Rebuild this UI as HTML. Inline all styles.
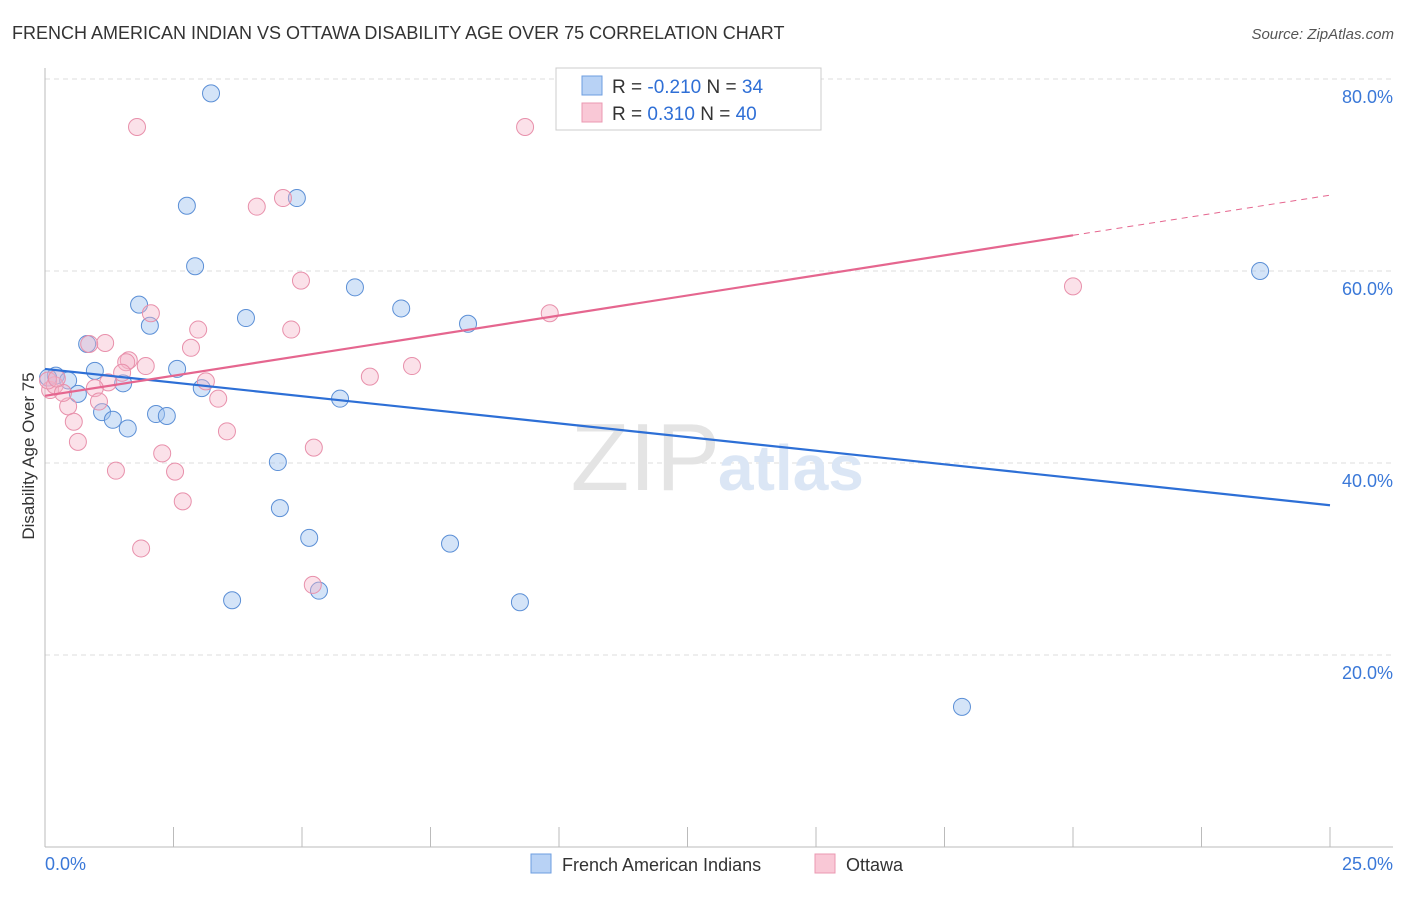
<!DOCTYPE html>
<html><head><meta charset="utf-8"><style>
body{margin:0;background:#fff;font-family:"Liberation Sans",sans-serif}
svg text{font-family:"Liberation Sans",sans-serif}
</style></head><body>
<svg width="1406" height="892">
<text x="12" y="39" font-size="18" fill="#333">FRENCH AMERICAN INDIAN VS OTTAWA DISABILITY AGE OVER 75 CORRELATION CHART</text>
<text x="1394" y="39" font-size="15" fill="#555" text-anchor="end" font-style="italic">Source: ZipAtlas.com</text>
<g id="grid"></g>
<text x="720" y="490" font-size="96" fill="#e4e4e4" text-anchor="end" font-family="Liberation Serif">ZIP</text>
<text x="718" y="490" font-size="64" fill="#dbe6f5" font-weight="bold">atlas</text>
<g id="pts"></g>
<g id="lines"></g>
<text transform="translate(34,456) rotate(-90)" font-size="17" fill="#333" text-anchor="middle">Disability Age Over 75</text>
<rect x="556" y="68" width="265" height="62" fill="#fff" stroke="#ccc"/>
<rect x="582" y="76" width="20" height="19" fill="#b8d2f5" stroke="#6d9ee0"/>
<rect x="582" y="103" width="20" height="19" fill="#f9c8d6" stroke="#eb98b2"/>
<text x="612" y="93" font-size="19" fill="#333">R = <tspan fill="#2f6fd6">-0.210</tspan>   N = <tspan fill="#2f6fd6">34</tspan></text>
<text x="612" y="120" font-size="19" fill="#333">R =  <tspan fill="#2f6fd6">0.310</tspan>   N = <tspan fill="#2f6fd6">40</tspan></text>
<text x="45" y="870" font-size="18" fill="#3a78d8">0.0%</text>
<text x="1393" y="870" font-size="18" fill="#3a78d8" text-anchor="end">25.0%</text>
<rect x="531" y="854" width="20" height="19" fill="#b8d2f5" stroke="#6d9ee0"/>
<text x="562" y="871" font-size="18" fill="#333">French American Indians</text>
<rect x="815" y="854" width="20" height="19" fill="#f9c8d6" stroke="#eb98b2"/>
<text x="846" y="871" font-size="18" fill="#333">Ottawa</text>
</svg>
<script>
const blueX=[3.23,2.76,4.90,2.92,1.83,2.04,6.03,6.93,8.23,3.91,0.82,0.97,2.57,1.52,3.05,5.74,0.21,0.06,0.45,0.64,1.11,1.32,1.61,2.16,2.37,4.53,4.57,5.14,7.88,3.64,5.33,9.24,23.64,17.84];
const blueY=[78.5,66.8,67.6,60.5,56.5,54.3,58.3,56.1,54.5,55.1,52.4,49.6,49.8,48.3,47.8,46.7,49.1,48.9,48.6,47.2,45.3,44.5,43.6,45.1,44.9,40.1,35.3,32.2,31.6,25.7,26.7,25.5,60.0,14.6];
const pinkX=[1.79,9.34,4.12,4.63,4.98,2.06,2.98,4.79,9.82,1.17,0.86,2.84,1.63,1.58,1.96,1.50,1.23,0.97,3.13,6.32,7.14,3.37,1.05,0.45,0.56,0.64,3.54,5.23,2.28,1.38,2.53,2.68,1.87,5.21,20.0,0.10,0.19,0.35,0.06,0.23];
const pinkY=[75.0,75.0,66.7,67.6,59.0,55.6,53.9,53.9,55.6,52.5,52.4,52.0,50.7,50.5,50.1,49.4,48.4,47.8,48.5,49.0,50.1,46.7,46.4,45.9,44.3,42.2,43.3,41.6,41.0,39.2,39.1,36.0,31.1,27.3,58.4,47.6,48.1,47.3,48.6,48.8];
const blueTrend=[49.8,35.6];
const pinkTrend=[47.0,67.9];
const pinkTrendSolidEnd=20.0;
const yTicks=[20,40,60,80];
const yTickLabels=["20.0%","40.0%","60.0%","80.0%"];
const xTicks=[0,2.5,5,7.5,10,12.5,15,17.5,20,22.5,25];
const NS="http://www.w3.org/2000/svg";
const sx=v=>45+v/25*1285, sy=v=>847-v*9.6;
function mk(t,a,p){const e=document.createElementNS(NS,t);for(const k in a)e.setAttribute(k,a[k]);p.appendChild(e);return e;}
const grid=document.getElementById('grid');
yTicks.forEach((t,i)=>{
 const l=mk('line',{x1:45,x2:1393,y1:sy(t),y2:sy(t),stroke:'#ddd','stroke-dasharray':'5,4'},grid);
 
 
 const tx=mk('text',{x:1393,y:sy(t)+24,'font-size':18,fill:'#3a78d8','text-anchor':'end'},grid);
 tx.textContent=yTickLabels[i];
 
 
});
const ax=mk('line',{x1:45,x2:1393,y1:847,y2:847,stroke:'#bbb'},grid);


const ay=mk('line',{x1:45,x2:45,y1:68,y2:847,stroke:'#bbb'},grid);


xTicks.forEach(t=>{
 const l=mk('line',{x1:sx(t),x2:sx(t),y1:827,y2:847,stroke:'#bbb'},grid);
 
 
});
const pts=document.getElementById('pts');
blueX.forEach((x,i)=>{
 const c=mk('circle',{cx:sx(x),cy:sy(blueY[i]),r:8.5,fill:'rgba(160,196,240,0.45)',stroke:'#5b8fd6','stroke-width':1},pts);
 
 
});
pinkX.forEach((x,i)=>{
 const c=mk('circle',{cx:sx(x),cy:sy(pinkY[i]),r:8.5,fill:'rgba(245,180,200,0.4)',stroke:'#e890ab','stroke-width':1},pts);
 
 
});
const lines=document.getElementById('lines');
const bl=mk('line',{x1:sx(0),y1:sy(blueTrend[0]),x2:sx(25),y2:sy(blueTrend[1]),stroke:'#2d6fd6','stroke-width':2.2},lines);


const pAt=x=>pinkTrend[0]+(pinkTrend[1]-pinkTrend[0])*x/25;
const pl=mk('line',{x1:sx(0),y1:sy(pinkTrend[0]),x2:sx(pinkTrendSolidEnd),y2:sy(pAt(pinkTrendSolidEnd)),stroke:'#e5668f','stroke-width':2.2},lines);


const pd=mk('line',{x1:sx(pinkTrendSolidEnd),y1:sy(pAt(pinkTrendSolidEnd)),x2:sx(25),y2:sy(pinkTrend[1]),stroke:'#e5668f','stroke-width':1,'stroke-dasharray':'6,5'},lines);


</script>
</body></html>
